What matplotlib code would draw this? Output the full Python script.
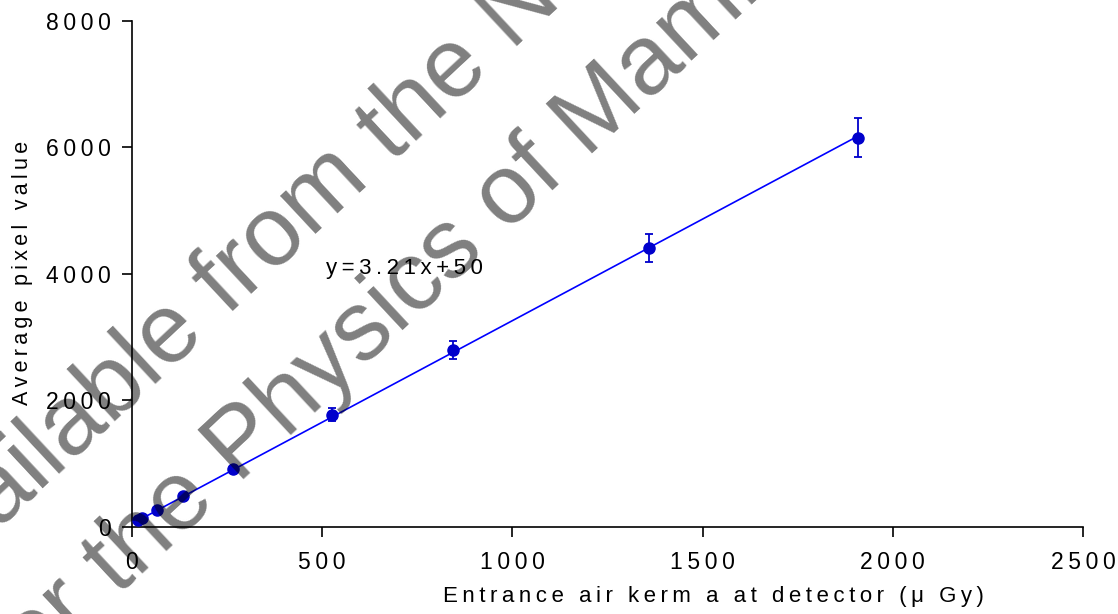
import matplotlib
matplotlib.use("Agg")
import matplotlib.pyplot as plt
import numpy as np

plt.rcParams['font.family'] = ['Liberation Sans', 'DejaVu Sans']

# kerma (uGy) against mean pixel value, with standard deviation
kerma = [17, 26, 67, 134, 267, 527, 844, 1358, 1909]
pixel = [106, 142, 275, 490, 917, 1777, 2794, 4402, 6150]
pixel_sd = [6, 8, 15, 25, 50, 100, 137, 221, 311]

# linear fit quoted on the chart
slope = 3.21
intercept = 50

xticks = [0, 500, 1000, 1500, 2000, 2500]
yticks = [0, 2000, 4000, 6000, 8000]

watermark1 = "Available from the National Co-ordinating Centre"
watermark2 = "for the Physics of Mammography"


def spaced(s):
    # wide letter spacing like the original software output
    return "\u2009".join(s)


fig = plt.figure(figsize=(11.18, 6.14), dpi=100)
ax = fig.add_axes([0.118, 0.1417, 0.8507, 0.8246])

fx = np.array([kerma[0], kerma[-1]])
ax.plot(fx, slope * fx + intercept, color='#0000ff', lw=1.2, zorder=2)
ax.errorbar(kerma, pixel, yerr=pixel_sd, fmt='o', color='#0000cc', ms=8,
            elinewidth=1.3, capsize=3, capthick=1.3, zorder=3)

ax.text(510, 4080, spaced("y=3.21x+50"), fontsize=16, va='center', ha='left')

ax.set_xlim(0, 2500)
ax.set_ylim(0, 8000)
ax.set_xticks(xticks)
ax.set_xticklabels([spaced(str(t)) for t in xticks])
ax.set_yticks(yticks)
ax.set_yticklabels([spaced(str(t)) for t in yticks])
ax.tick_params(direction='out', length=7, width=1.2, labelsize=16.5, pad=8)
ax.tick_params(axis='x', pad=10)
for s in ['top', 'right']:
    ax.spines[s].set_visible(False)
for s in ['left', 'bottom']:
    ax.spines[s].set_linewidth(1.2)

fig.text(0.02, 0.555, spaced("Average pixel value"), rotation=90,
         fontsize=15.5, ha='center', va='center')
fig.text(0.638, 0.028, spaced("Entrance air kerm a at detector (\u03bc Gy)"),
         fontsize=16, ha='center', va='center')

# diagonal watermark over the plot
fig.text(-0.076, 0.010, watermark1, rotation=43, rotation_mode='anchor',
         fontsize=71, color='black', alpha=0.5, ha='left', va='baseline',
         zorder=10)
fig.text(0.012, -0.13, watermark2, rotation=43, rotation_mode='anchor',
         fontsize=71, color='black', alpha=0.5, ha='left', va='baseline',
         zorder=10)

fig.savefig("out.png", dpi=100)
